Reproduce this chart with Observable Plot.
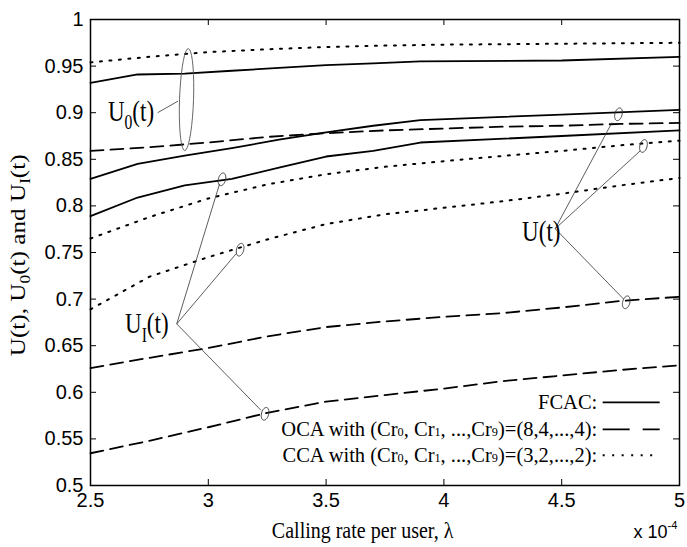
<!DOCTYPE html>
<html><head><meta charset="utf-8">
<script src="https://cdn.jsdelivr.net/npm/d3@7"></script>
<script src="https://cdn.jsdelivr.net/npm/@observablehq/plot@0.6"></script>
<style>body{margin:0;background:#fff} #chart{width:687px;height:547px}</style>
</head><body><div id="chart"></div>
<script>
// ---------- data ----------
const xTicks = [2.5, 3, 3.5, 4, 4.5, 5];
const yTicks = [0.5, 0.55, 0.6, 0.65, 0.7, 0.75, 0.8, 0.85, 0.9, 0.95, 1];

const lambdaFCAC = [2.5, 2.7, 2.9, 3.1, 3.3, 3.5, 3.7, 3.9, 4.5, 5.0];
const fcacU0 = [0.932, 0.941, 0.942, 0.945, 0.948, 0.951, 0.953, 0.955, 0.956, 0.960];
const fcacU  = [0.829, 0.845, 0.854, 0.862, 0.871, 0.879, 0.886, 0.892, 0.898, 0.903];
const fcacUI = [0.789, 0.809, 0.822, 0.829, 0.841, 0.853, 0.859, 0.868, 0.875, 0.881];

const lambdaCA = [2.5, 2.75, 3.0, 3.25, 3.5, 3.75, 4.0, 4.25, 4.5, 4.75, 5.0];
const ocaU0 = [0.859, 0.863, 0.868, 0.874, 0.878, 0.881, 0.883, 0.885, 0.886, 0.888, 0.889];
const ocaU  = [0.626, 0.637, 0.6475, 0.660, 0.670, 0.676, 0.681, 0.685, 0.691, 0.698, 0.7025];
const ocaUI = [0.5346, 0.548, 0.5625, 0.578, 0.590, 0.597, 0.604, 0.612, 0.618, 0.624, 0.629];
const ccaU0 = [0.954, 0.960, 0.965, 0.968, 0.9705, 0.972, 0.973, 0.9735, 0.974, 0.9745, 0.975];
const ccaU  = [0.765, 0.788, 0.808, 0.823, 0.834, 0.842, 0.848, 0.8536, 0.859, 0.865, 0.870];
const ccaUI = [0.689, 0.724, 0.745, 0.764, 0.7805, 0.791, 0.798, 0.805, 0.813, 0.822, 0.830];

// titles
const xTitle = "Calling rate per user, λ";
const xScaleNote = "x 10^{-4}";
const yTitle = "U(t), U_0(t) and U_I(t)";

// legend
const legendLabels = ["FCAC:", "OCA with (Cr~0, Cr~1, ...,Cr~9)=(8,4,...,4):", "CCA with (Cr~0, Cr~1, ...,Cr~9)=(3,2,...,2):"];
const legendStyles = ["solid", "dashed", "dotted"];
const legendTextX = 4.651;
const legendTextY = [0.5817, 0.5528, 0.5250];
const legendLineX1 = 4.676, legendLineX2 = 4.918;
const legendLineY = [0.5891, 0.5602, 0.5324];

// annotations
const annLabels = ["U_0(t)", "U_I(t)", "U(t)"];
const annLabelX = [2.574, 2.6465, 4.332];
const annLabelY = [0.891, 0.6631, 0.7627];
const leaderX1 = [2.785, 2.866, 2.866, 2.866, 4.4724, 4.4724, 4.4724];
const leaderY1 = [0.900, 0.6734, 0.6734, 0.6734, 0.7755, 0.7755, 0.7755];
const leaderX2 = [2.872, 3.048, 3.118, 3.224, 4.713, 4.833, 4.762];
const leaderY2 = [0.9125, 0.8237, 0.7487, 0.5806, 0.8893, 0.859, 0.7002];
const ovalX = [3.058, 3.135, 3.241, 4.741, 4.847, 4.774];
const ovalY = [0.8285, 0.753, 0.5769, 0.8983, 0.8643, 0.6966];
const bigOvalX = [2.9076], bigOvalY = [0.9141];

// ---------- build ----------
const series = [
  {name: "fcacU0", style: "solid", xs: lambdaFCAC, ys: fcacU0},
  {name: "fcacU", style: "solid", xs: lambdaFCAC, ys: fcacU},
  {name: "fcacUI", style: "solid", xs: lambdaFCAC, ys: fcacUI},
  {name: "ocaU0", style: "dashed", xs: lambdaCA, ys: ocaU0},
  {name: "ocaU", style: "dashed", xs: lambdaCA, ys: ocaU},
  {name: "ocaUI", style: "dashed", xs: lambdaCA, ys: ocaUI},
  {name: "ccaU0", style: "dotted", xs: lambdaCA, ys: ccaU0},
  {name: "ccaU", style: "dotted", xs: lambdaCA, ys: ccaU},
  {name: "ccaUI", style: "dotted", xs: lambdaCA, ys: ccaUI}
];
const rows = series.flatMap(s => s.xs.map((x, i) => ({lambda: x, value: s.ys[i], curve: s.name, style: s.style})));
const dash = {solid: null, dashed: "13,7", dotted: "2,7.5"};
const legendDash = {solid: null, dashed: "27,13", dotted: "2,7.5"};

const SERIF = "Liberation Serif, Times New Roman, serif";
const SANS = "Liberation Sans, Arial, sans-serif";

function ovalSymbol(rx, ry, angle) {
  return {draw(context) {
    const n = 36, a = angle * Math.PI / 180;
    for (let i = 0; i <= n; i++) {
      const t = 2 * Math.PI * i / n;
      const px = rx * Math.cos(t), py = ry * Math.sin(t);
      const X = px * Math.cos(a) - py * Math.sin(a), Y = px * Math.sin(a) + py * Math.cos(a);
      if (i === 0) context.moveTo(X, Y); else context.lineTo(X, Y);
    }
    context.closePath();
  }};
}

const W = 687, H = 547, mL = 90, mR = 8, mT = 19, mB = 62;
const tickLenX = 6 * (5 - 2.5) / (W - mL - mR);
const tickLenY = 6 * (1 - 0.5) / (H - mT - mB);

const marks = [];
for (const st of ["solid", "dashed", "dotted"]) {
  marks.push(Plot.line(rows.filter(d => d.style === st), {
    x: "lambda", y: "value", z: "curve", stroke: "black", strokeWidth: st === "dotted" ? 2 : 1.8,
    strokeDasharray: dash[st]
  }));
}
// inward ticks on all four sides
marks.push(Plot.ruleX(xTicks, {x: d => d, y1: 0.5, y2: 0.5 + tickLenY, stroke: "black", strokeWidth: 1}));
marks.push(Plot.ruleX(xTicks, {x: d => d, y1: 1, y2: 1 - tickLenY, stroke: "black", strokeWidth: 1}));
marks.push(Plot.ruleY(yTicks, {y: d => d, x1: 2.5, x2: 2.5 + tickLenX, stroke: "black", strokeWidth: 1}));
marks.push(Plot.ruleY(yTicks, {y: d => d, x1: 5, x2: 5 - tickLenX, stroke: "black", strokeWidth: 1}));
marks.push(Plot.frame({stroke: "black", strokeWidth: 1.5}));
marks.push(Plot.axisX({ticks: xTicks, tickSize: 0, tickPadding: 7, tickFormat: d => String(d), label: null, fontSize: 20, fontFamily: SANS}));
marks.push(Plot.axisY({ticks: yTicks, tickSize: 0, tickPadding: 7, tickFormat: d => String(d), label: null, fontSize: 20, fontFamily: SANS}));

// legend
const legendRows = legendLabels.map((t, i) => ({t, y: legendTextY[i], ly: legendLineY[i], st: legendStyles[i]}));
marks.push(Plot.text(legendRows, {x: () => legendTextX, y: "y", text: "t", textAnchor: "end", lineAnchor: "bottom", fontSize: 20.5, fontFamily: SERIF, fill: "black"}));
for (const r of legendRows) {
  marks.push(Plot.ruleY([r], {y: "ly", x1: () => legendLineX1, x2: () => legendLineX2, stroke: "black", strokeWidth: r.st === "dotted" ? 2 : 1.7, strokeDasharray: legendDash[r.st]}));
}

// annotations
const leaders = leaderX1.map((x1, i) => ({x1, y1: leaderY1[i], x2: leaderX2[i], y2: leaderY2[i]}));
marks.push(Plot.link(leaders, {x1: "x1", y1: "y1", x2: "x2", y2: "y2", stroke: "#333", strokeWidth: 0.8}));
const ovals = ovalX.map((x, i) => ({x, y: ovalY[i]}));
marks.push(Plot.dot(ovals, {x: "x", y: "y", r: 5, symbol: ovalSymbol(3.6, 6.5, 15), stroke: "#333", strokeWidth: 0.9, fill: "none"}));
marks.push(Plot.dot(bigOvalX.map((x, i) => ({x, y: bigOvalY[i]})), {x: "x", y: "y", r: 20, symbol: ovalSymbol(7, 51, 2), stroke: "#555", strokeWidth: 0.9, fill: "none"}));
const anns = annLabels.map((t, i) => ({t, x: annLabelX[i], y: annLabelY[i]}));
marks.push(Plot.text(anns, {x: "x", y: "y", text: "t", textAnchor: "start", lineAnchor: "bottom", fontSize: 23, fontFamily: SERIF, fill: "black"}));

// axis titles
marks.push(Plot.text([{t: xTitle, x: 3.655, y: 0.5}], {x: "x", y: "y", text: "t", dy: 52, textAnchor: "middle", lineAnchor: "bottom", fontSize: 20, fontFamily: SERIF, fill: "black"}));
marks.push(Plot.text([{t: xScaleNote, x: 5, y: 0.5}], {x: "x", y: "y", text: "t", dx: -2, dy: 52, textAnchor: "end", lineAnchor: "bottom", fontSize: 18, fontFamily: SANS, fill: "black"}));
marks.push(Plot.text([{t: yTitle, x: 2.5, y: 0.747}], {x: "x", y: "y", text: "t", dx: -66, rotate: -90, textAnchor: "middle", lineAnchor: "bottom", fontSize: 21, fontFamily: SERIF, fill: "black"}));

const chart = Plot.plot({
  width: W, height: H, marginLeft: mL, marginRight: mR, marginTop: mT, marginBottom: mB,
  x: {domain: [2.5, 5]}, y: {domain: [0.5, 1]},
  style: {background: "white", color: "black", fontFamily: SANS, fontSize: "20px", overflow: "visible"},
  marks
});
document.getElementById("chart").appendChild(chart);

// rich text: _X subscript, ~X small at baseline, ^{..} superscript
function richify(el) {
  const raw = el.textContent;
  if (!/[_~]|\^\{/.test(raw)) return;
  const fs = parseFloat(getComputedStyle(el).fontSize);
  const ns = "http://www.w3.org/2000/svg";
  while (el.firstChild) el.removeChild(el.firstChild);
  let buf = "", pend = 0, i = 0;
  const add = (txt, size, dy) => {
    const t = document.createElementNS(ns, "tspan");
    t.textContent = txt;
    if (size) t.setAttribute("font-size", size);
    if (dy) t.setAttribute("dy", dy);
    el.appendChild(t);
  };
  const flush = () => { if (buf) { add(buf, null, pend || null); pend = 0; buf = ""; } };
  while (i < raw.length) {
    const c = raw[i];
    if (c === "_") { flush(); add(raw[i + 1], fs * 0.68, pend + fs * 0.28); pend = -fs * 0.28; i += 2; }
    else if (c === "~") { flush(); add(raw[i + 1], fs * 0.6, pend || null); pend = 0; i += 2; }
    else if (c === "^" && raw[i + 1] === "{") { flush(); const j = raw.indexOf("}", i); add(raw.slice(i + 2, j), fs * 0.62, pend - fs * 0.45); pend = fs * 0.45; i = j + 1; }
    else { buf += c; i++; }
  }
  flush();
}
d3.select(chart).selectAll("text").each(function() {
  const raw = this.textContent;
  richify(this);
  const tr = this.getAttribute("transform") || "";
  if (annLabels.includes(raw)) this.setAttribute("transform", tr + " scale(1,1.28)");
  else if (raw === xTitle) this.setAttribute("transform", tr + " scale(1,1.12)");
  else if (raw === yTitle) {
    const L = this.getComputedTextLength();
    this.setAttribute("transform", tr + ` scale(${202 / L},1)`);
  }
});
</script>
</body></html>
